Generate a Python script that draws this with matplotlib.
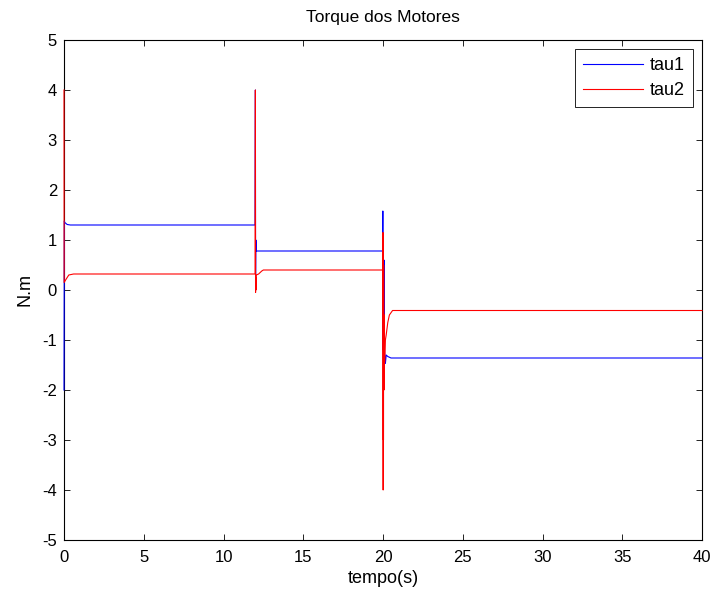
import matplotlib
matplotlib.use("Agg")
import matplotlib.pyplot as plt

plt.rcParams['font.family'] = ['Liberation Sans', 'DejaVu Sans']
plt.rcParams['axes.unicode_minus'] = False

# tau1 (blue) breakpoints
t1 = [0.0, 0.02, 0.05, 0.2, 0.4, 11.98, 12.0, 12.01, 12.03, 12.05, 12.1,
      19.98, 19.99, 20.0, 20.02, 20.04, 20.06, 20.1, 20.15, 20.2, 20.3, 20.5, 40.0]
tau1 = [-2.0, 1.38, 1.35, 1.31, 1.3, 1.3, 4.0, 0.0, 1.0, 0.78, 0.78,
        0.78, 1.58, -1.2, 0.9, -1.0, 0.6, -1.25, -1.47, -1.3, -1.33, -1.36, -1.36]

# tau2 (red) breakpoints
t2 = [0.0, 0.01, 0.1, 0.3, 0.6, 11.98, 12.0, 12.01, 12.02, 12.03, 12.05, 12.2, 12.4, 12.5,
      19.98, 20.0, 20.01, 20.02, 20.03, 20.04, 20.06, 20.08, 20.1, 20.15, 20.2, 20.3, 20.4, 20.6, 40.0]
tau2 = [4.0, 0.15, 0.2, 0.3, 0.32, 0.32, 4.0, -0.05, 0.25, 0.0, 0.3, 0.32, 0.38, 0.4,
        0.4, 1.15, -4.0, 0.9, -3.0, 0.5, -2.0, -0.5, -1.45, -1.0, -0.9, -0.65, -0.5, -0.41, -0.41]

xticks = [0, 5, 10, 15, 20, 25, 30, 35, 40]
yticks = [-5, -4, -3, -2, -1, 0, 1, 2, 3, 4, 5]

fig = plt.figure(figsize=(7.13, 5.96), dpi=100)
ax = fig.add_axes([64/713, 56/596, 638/713, 500/596])

ax.plot(t1, tau1, color=(0, 0, 1), lw=0.8, label='tau1', clip_on=False, zorder=3)
ax.plot(t2, tau2, color=(1, 0, 0), lw=0.8, label='tau2', clip_on=False, zorder=3.1)

ax.set_xlim(0, 40)
ax.set_ylim(-5, 5)
ax.set_xticks(xticks)
ax.set_yticks(yticks)
ax.tick_params(direction='in', top=True, right=True, length=4.5, width=0.6,
               labelsize=12, colors='black')
ax.tick_params(axis='x', pad=7)
ax.tick_params(axis='y', pad=5)
for s in ax.spines.values():
    s.set_linewidth(0.8)

ax.set_title('Torque dos Motores', fontsize=12.5, pad=13)
ax.set_xlabel('tempo(s)', fontsize=13, labelpad=4)
ax.set_ylabel('N.m', fontsize=13, labelpad=6)

leg = ax.legend(loc='upper right', fontsize=13, handlelength=3.3, fancybox=False,
                framealpha=1, edgecolor='black', borderaxespad=0.5,
                handletextpad=0.4, borderpad=0.45, labelspacing=0.45)
leg.get_frame().set_linewidth(0.6)

fig.savefig('out.png', dpi=100)
